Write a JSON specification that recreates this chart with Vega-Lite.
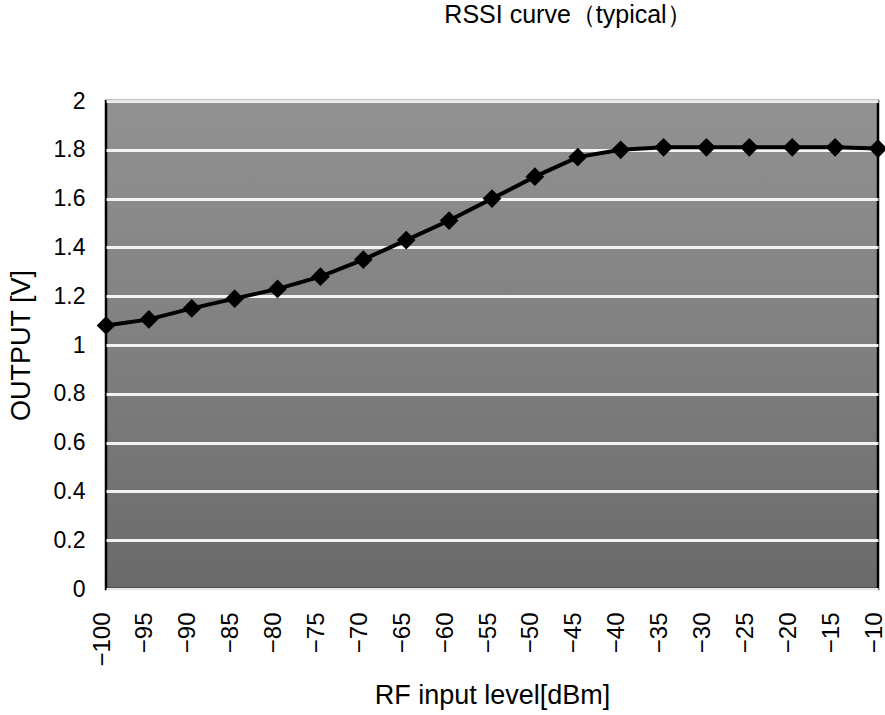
{
  "$schema": "https://vega.github.io/schema/vega-lite/v6.json",
  "width": 772,
  "height": 488,
  "autosize": {"type": "none"},
  "padding": {"left": 106, "top": 101, "right": 7, "bottom": 126},
  "background": "white",
  "title": {
    "text": "RSSI curve（typical）",
    "font": "Liberation Sans",
    "fontSize": 25,
    "fontWeight": "normal",
    "color": "black",
    "anchor": "middle",
    "dx": 76,
    "offset": 62
  },
  "data": {
    "values": [
      {"dBm": -100, "V": 1.08},
      {"dBm": -95, "V": 1.105},
      {"dBm": -90, "V": 1.15},
      {"dBm": -85, "V": 1.19},
      {"dBm": -80, "V": 1.23},
      {"dBm": -75, "V": 1.28},
      {"dBm": -70, "V": 1.35},
      {"dBm": -65, "V": 1.43},
      {"dBm": -60, "V": 1.51},
      {"dBm": -55, "V": 1.6},
      {"dBm": -50, "V": 1.69},
      {"dBm": -45, "V": 1.77},
      {"dBm": -40, "V": 1.8},
      {"dBm": -35, "V": 1.81},
      {"dBm": -30, "V": 1.81},
      {"dBm": -25, "V": 1.81},
      {"dBm": -20, "V": 1.81},
      {"dBm": -15, "V": 1.81},
      {"dBm": -10, "V": 1.805}
    ]
  },
  "encoding": {
    "x": {
      "field": "dBm",
      "type": "quantitative",
      "scale": {"domain": [-100, -10], "nice": false, "zero": false},
      "axis": {
        "values": [-100, -95, -90, -85, -80, -75, -70, -65, -60, -55, -50, -45, -40, -35, -30, -25, -20, -15, -10],
        "labelAngle": -90,
        "labelFontSize": 24,
        "labelPadding": 23,
        "labelOffset": -4,
        "grid": false,
        "ticks": false,
        "domain": false,
        "title": "RF input level[dBm]",
        "titlePadding": 16
      }
    },
    "y": {
      "field": "V",
      "type": "quantitative",
      "scale": {"domain": [0, 2], "nice": false, "zero": false},
      "axis": {
        "values": [0, 0.2, 0.4, 0.6, 0.8, 1, 1.2, 1.4, 1.6, 1.8, 2],
        "labelExpr": "format(datum.value, '~g')",
        "labelFontSize": 23,
        "labelPadding": 21,
        "grid": true,
        "gridColor": "#ffffff",
        "gridWidth": 3,
        "gridOpacity": 0.9,
        "ticks": false,
        "domain": false,
        "title": "OUTPUT [V]",
        "titlePadding": 18
      }
    }
  },
  "layer": [
    {
      "mark": {"type": "line", "color": "black", "strokeWidth": 4}
    },
    {
      "mark": {"type": "point", "shape": "diamond", "filled": true, "color": "black", "opacity": 1, "size": 350}
    }
  ],
  "config": {
    "view": {
      "stroke": "black",
      "strokeWidth": 2.5,
      "fill": {
        "gradient": "linear",
        "x1": 0, "y1": 0, "x2": 0, "y2": 1,
        "stops": [
          {"offset": 0, "color": "#929292"},
          {"offset": 0.5, "color": "#808080"},
          {"offset": 1, "color": "#6a6a6a"}
        ]
      }
    },
    "axis": {
      "labelFont": "Liberation Sans",
      "labelColor": "black",
      "titleFont": "Liberation Sans",
      "titleFontSize": 27,
      "titleFontWeight": "normal",
      "titleColor": "black"
    }
  }
}
